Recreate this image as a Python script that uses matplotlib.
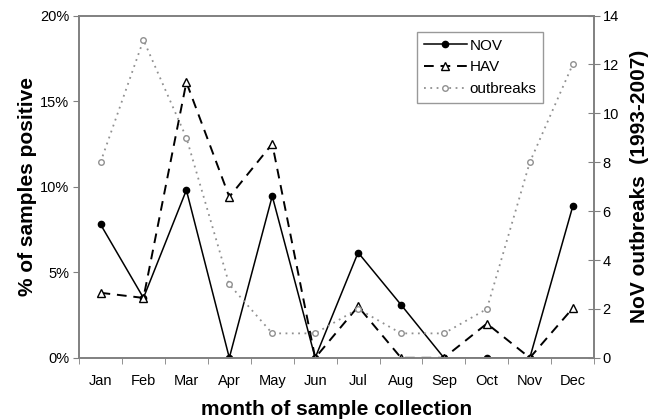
import matplotlib.pyplot as plt
import numpy as np

plt.rcParams['font.family'] = ['Liberation Sans', 'DejaVu Sans']

months = ['Jan', 'Feb', 'Mar', 'Apr', 'May', 'Jun',
          'Jul', 'Aug', 'Sep', 'Oct', 'Nov', 'Dec']
nov_pct = [7.8, 3.5, 9.8, 0, 9.45, 0, 6.15, 3.1, 0, 0, 0, 8.85]
hav_pct = [3.8, 3.5, 16.1, 9.4, 12.5, 0, 3.0, 0, 0, 2.0, 0, 2.9]
outbreaks = [8, 13, 9, 3, 1, 1, 2, 1, 1, 2, 8, 12]

x = np.arange(len(months))
spine_col = '#808080'

fig = plt.figure(figsize=(6.48, 4.19), dpi=100)
ax = fig.add_axes([0.122, 0.146, 0.795, 0.817])
ax2 = ax.twinx()

l_nov, = ax.plot(x, nov_pct, color='black', lw=1.1, marker='o', ms=4.5,
                 mfc='black', mec='black', label='NOV')
l_hav, = ax.plot(x, hav_pct, color='black', lw=1.4, ls=(0, (5, 3.5)),
                 marker='^', ms=5.5, mfc='white', mec='black', mew=1.0,
                 label='HAV')
l_out, = ax2.plot(x, outbreaks, color='#909090', lw=1.3, ls=(0, (1, 2.5)),
                  marker='o', ms=4, mfc='white', mec='#909090', mew=1.0,
                  label='outbreaks')

ax.set_xlim(-0.5, 11.5)
ax.set_ylim(0, 20)
ax2.set_ylim(0, 14)

ax.set_yticks([0, 5, 10, 15, 20])
ax.set_yticklabels(['0%', '5%', '10%', '15%', '20%'])
ax2.set_yticks(range(0, 15, 2))

ax.set_xticks(x)
ax.set_xticklabels(months)
ax.set_xticks(np.arange(-0.5, 12, 1), minor=True)
ax.tick_params(axis='x', which='major', length=0, pad=12, labelsize=10.5)
ax.tick_params(axis='x', which='minor', length=4, color=spine_col,
               direction='out')
ax.tick_params(axis='y', length=4, color=spine_col, direction='out',
               labelsize=10.5, pad=3)
ax2.tick_params(axis='y', length=8, color=spine_col, direction='inout',
                labelsize=10.5, pad=2)

for a in (ax, ax2):
    for s in a.spines.values():
        s.set_color(spine_col)
        s.set_linewidth(1.2)

ax.set_xlabel('month of sample collection', fontsize=15, fontweight='bold',
              labelpad=8)
ax.set_ylabel('% of samples positive', fontsize=15, fontweight='bold',
              labelpad=2)
ax2.set_ylabel('NoV outbreaks  (1993-2007)', fontsize=15,
               fontweight='bold', labelpad=8)

leg = ax2.legend(handles=[l_nov, l_hav, l_out], loc='upper left',
                 bbox_to_anchor=(0.656, 0.952), frameon=True, fancybox=False,
                 edgecolor=spine_col, fontsize=11, handlelength=2.8,
                 handletextpad=0.2, borderpad=0.45, borderaxespad=0,
                 labelspacing=0.5)
leg.get_frame().set_linewidth(1.0)

fig.savefig('out.png', dpi=100)
